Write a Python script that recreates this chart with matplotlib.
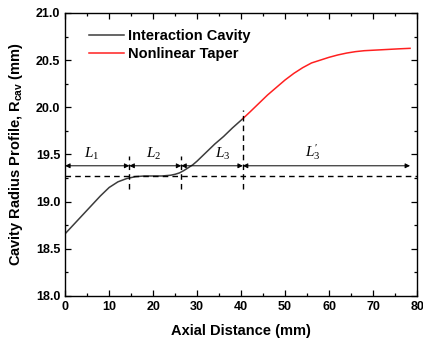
import numpy as np
import matplotlib
matplotlib.use("Agg")
import matplotlib.pyplot as plt

plt.rcParams["font.family"] = "Liberation Sans"
plt.rcParams["font.weight"] = "bold"
plt.rcParams["mathtext.fontset"] = "custom"
plt.rcParams["mathtext.it"] = "Liberation Serif:style=italic:weight=normal"
plt.rcParams["mathtext.rm"] = "Liberation Serif:weight=normal"
plt.rcParams["mathtext.bf"] = "Liberation Sans:bold"

# interaction cavity profile (mm)
cavity_x = [0, 2, 4, 6, 8, 10, 12, 14, 16, 18, 20, 22, 24, 25, 26, 27, 28, 29, 30,
            32, 34, 36, 38, 40.4]
cavity_r = [18.66, 18.76, 18.86, 18.96, 19.06, 19.15, 19.21, 19.245, 19.265, 19.272,
            19.272, 19.272, 19.28, 19.29, 19.305, 19.33, 19.36, 19.39, 19.43,
            19.52, 19.61, 19.69, 19.78, 19.88]

# nonlinear taper profile (mm)
taper_x = [40.4, 42, 44, 46, 48, 50, 52, 54, 56, 58, 60, 62, 64, 66, 68, 72, 76, 78.4]
taper_r = [19.88, 19.95, 20.04, 20.13, 20.21, 20.29, 20.36, 20.42, 20.47, 20.50,
           20.53, 20.555, 20.575, 20.59, 20.60, 20.61, 20.62, 20.625]

# section boundaries and labels
bounds = [0, 14.6, 26.4, 40.4, 78.4]
sec_labels = [r"$L_{\mathit{1}}$", r"$L_{\mathit{2}}$", r"$L_{\mathit{3}}$",
              r"$L^{\prime}_{\mathit{3}}$"]
sec_label_x = [6.0, 20.2, 35.8, 56.4]
r_flat = 19.27
arrow_y = 19.38

fig = plt.figure(figsize=(4.23, 3.41), dpi=100)
ax = fig.add_axes([0.154, 0.132, 0.832, 0.830])

ax.plot(cavity_x, cavity_r, color="#3c3c3c", lw=1.1, label="Interaction Cavity")
ax.plot(taper_x, taper_r, color="#ff2020", lw=1.1, label="Nonlinear Taper")

ax.axhline(r_flat, color="black", lw=1.0, ls=(0, (4, 3)))
ax.vlines([bounds[1], bounds[2]], 19.13, 19.48, color="black", lw=1.0, ls=(0, (4, 3)))
ax.vlines([bounds[3]], 19.13, 19.97, color="black", lw=1.0, ls=(0, (4, 3)))

for i in range(4):
    ax.annotate("", xy=(bounds[i + 1], arrow_y), xytext=(bounds[i], arrow_y),
                arrowprops=dict(arrowstyle="<|-|>", color="black", lw=0.7,
                                mutation_scale=7, shrinkA=0, shrinkB=0))
    ax.text(sec_label_x[i], 19.42, sec_labels[i], fontsize=11, ha="center", va="bottom",
            fontweight="normal")

ax.set_xlim(0, 80)
ax.set_ylim(18.0, 21.0)
ax.set_xticks(np.arange(0, 81, 10))
ax.set_xticks(np.arange(5, 80, 10), minor=True)
ax.set_yticks(np.arange(18.0, 21.01, 0.5))
ax.set_yticks(np.arange(18.25, 21.0, 0.5), minor=True)
ax.yaxis.set_major_formatter(matplotlib.ticker.FormatStrFormatter("%.1f"))
ax.tick_params(which="both", direction="in", top=True, right=True, labelsize=9)
ax.tick_params(which="major", length=4, width=0.9)
ax.tick_params(which="minor", length=2.5, width=0.9)
for s in ax.spines.values():
    s.set_linewidth(1.0)

ax.set_xlabel("Axial Distance (mm)", fontsize=10.5, fontweight="bold", labelpad=8)
ax.set_ylabel(r"Cavity Radius Profile, R$_{\mathbf{cav}}$ (mm)", fontsize=10.5,
              fontweight="bold", labelpad=8)

ax.legend(loc="upper left", frameon=False, fontsize=10.5, handlelength=2.4,
          bbox_to_anchor=(0.03, 0.99), labelspacing=0.3, handletextpad=0.3)

fig.savefig("out.png", dpi=100)
